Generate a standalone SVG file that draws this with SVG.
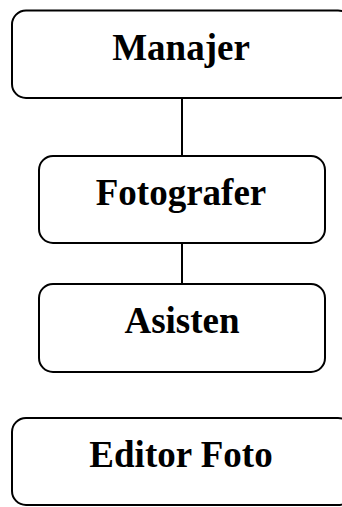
<svg xmlns="http://www.w3.org/2000/svg" width="342" height="507" viewBox="0 0 342 507">
<style>
.box{fill:#fff;stroke:#000;stroke-width:2}
.lbl{font-family:"Liberation Serif","Times New Roman",serif;font-weight:bold;font-size:37px;fill:#000;text-anchor:middle}
.conn{stroke:#000;stroke-width:2;fill:none}
</style>
<rect width="342" height="507" fill="#fff"/>
<g id="connectors">
<line class="conn" x1="182" y1="98" x2="182" y2="156"/>
<line class="conn" x1="182" y1="243" x2="182" y2="284"/>
</g>
<g id="manajer">
<rect class="box" x="12" y="10.5" width="340" height="87.5" rx="14"/>
<text class="lbl" x="181" y="60">Manajer</text>
</g>
<g id="fotografer">
<rect class="box" x="39" y="156" width="286" height="87" rx="14"/>
<text class="lbl" x="181" y="205">Fotografer</text>
</g>
<g id="asisten">
<rect class="box" x="39" y="284" width="286" height="88" rx="14"/>
<text class="lbl" x="182" y="333">Asisten</text>
</g>
<g id="editor-foto">
<rect class="box" x="12" y="418" width="340" height="87" rx="14"/>
<text class="lbl" x="181" y="467">Editor Foto</text>
</g>
</svg>
